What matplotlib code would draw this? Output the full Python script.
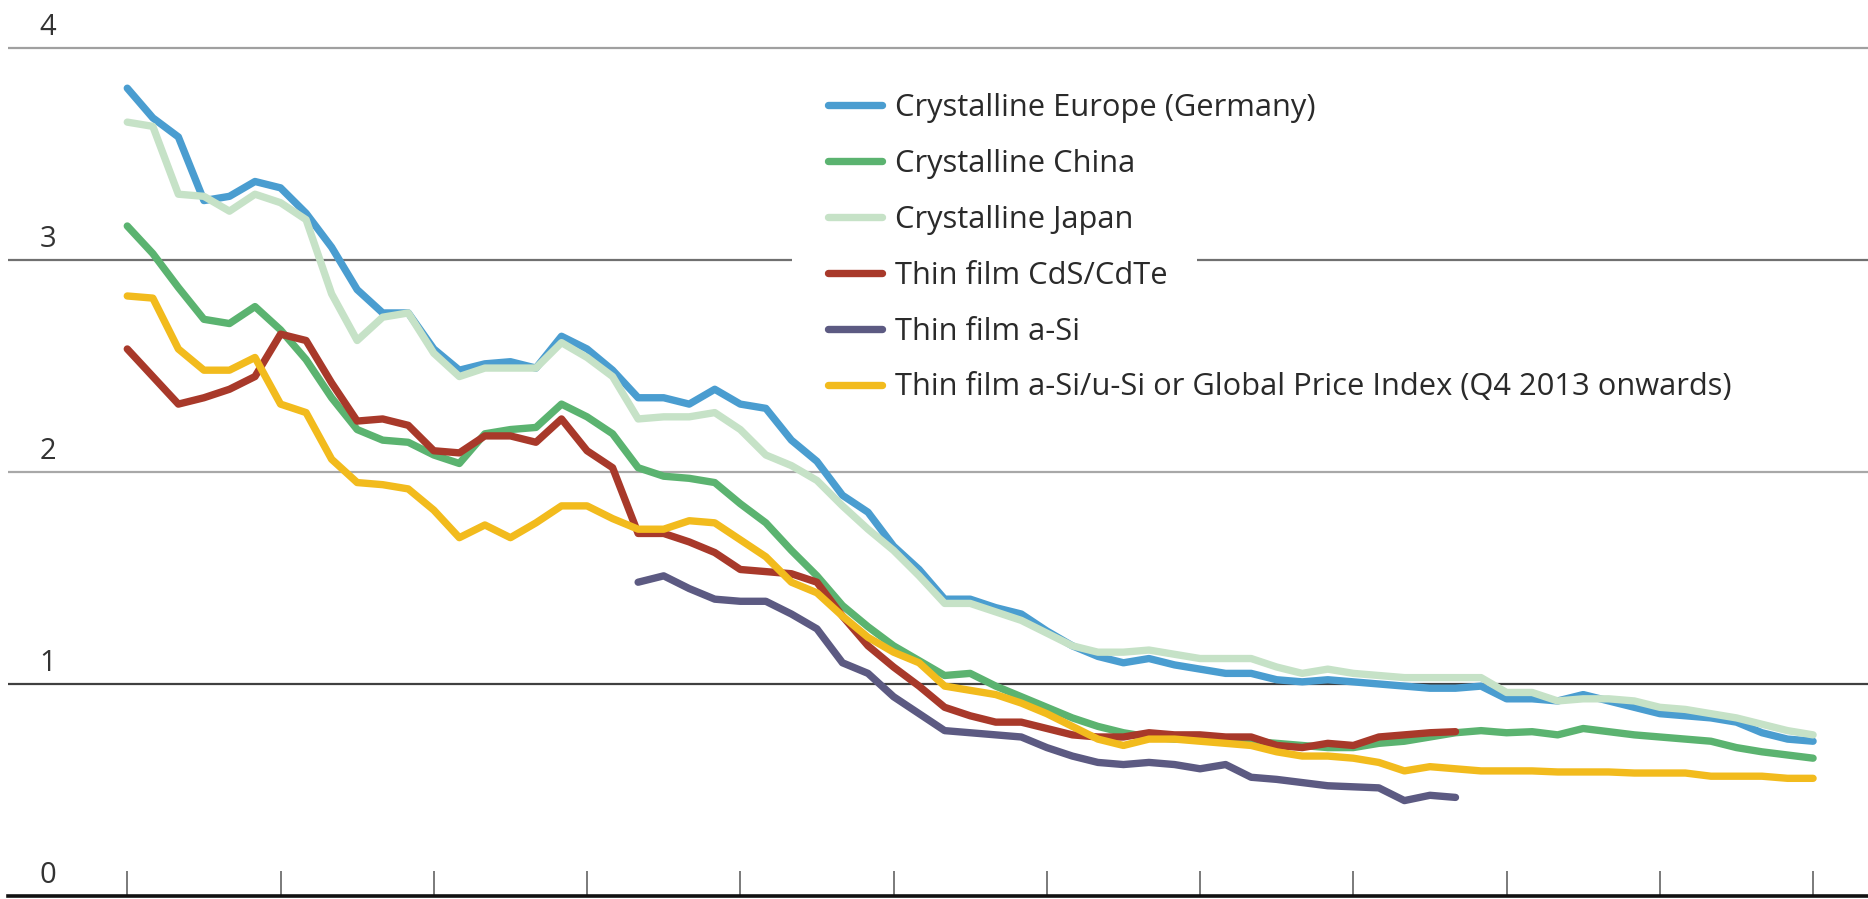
import numpy as np
import matplotlib
matplotlib.use('Agg')
import matplotlib.pyplot as plt
from matplotlib.patches import Rectangle

plt.rcParams['font.family'] = ['Open Sans', 'DejaVu Sans']

# monthly index, ticks every 6 months
months = np.arange(67)

europe = [3.81, 3.67, 3.58, 3.28, 3.30, 3.37, 3.34, 3.22, 3.06, 2.86, 2.75, 2.75,
          2.58, 2.48, 2.51, 2.52, 2.49, 2.64, 2.58, 2.48, 2.35, 2.35, 2.32, 2.39,
          2.32, 2.30, 2.15, 2.05, 1.89, 1.81, 1.65, 1.54, 1.40, 1.40, 1.36, 1.33,
          1.25, 1.18, 1.13, 1.10, 1.12, 1.09, 1.07, 1.05, 1.05, 1.02, 1.01, 1.02,
          1.01, 1.00, 0.99, 0.98, 0.98, 0.99, 0.93, 0.93, 0.92, 0.95, 0.92, 0.89,
          0.86, 0.85, 0.84, 0.82, 0.77, 0.74, 0.73]
china = [3.16, 3.03, 2.87, 2.72, 2.70, 2.78, 2.67, 2.53, 2.35, 2.20, 2.15, 2.14,
         2.08, 2.04, 2.18, 2.20, 2.21, 2.32, 2.26, 2.18, 2.02, 1.98, 1.97, 1.95,
         1.85, 1.76, 1.63, 1.51, 1.37, 1.27, 1.18, 1.11, 1.04, 1.05, 0.99, 0.94,
         0.89, 0.84, 0.80, 0.77, 0.75, 0.74, 0.74, 0.73, 0.73, 0.72, 0.71, 0.70,
         0.70, 0.72, 0.73, 0.75, 0.77, 0.78, 0.77, 0.775, 0.76, 0.79, 0.775, 0.76,
         0.75, 0.74, 0.73, 0.70, 0.68, 0.665, 0.65]
japan = [3.65, 3.63, 3.31, 3.30, 3.23, 3.31, 3.27, 3.19, 2.84, 2.62, 2.73, 2.75,
         2.56, 2.45, 2.49, 2.49, 2.49, 2.61, 2.54, 2.45, 2.25, 2.26, 2.26, 2.28,
         2.20, 2.08, 2.03, 1.96, 1.84, 1.73, 1.63, 1.51, 1.38, 1.38, 1.34, 1.30,
         1.24, 1.18, 1.15, 1.15, 1.16, 1.14, 1.12, 1.12, 1.12, 1.08, 1.05, 1.07,
         1.05, 1.04, 1.03, 1.03, 1.03, 1.03, 0.96, 0.96, 0.92, 0.93, 0.93, 0.92,
         0.89, 0.88, 0.86, 0.84, 0.81, 0.78, 0.76]
cdte = [2.58, 2.45, 2.32, 2.35, 2.39, 2.45, 2.65, 2.62, 2.42, 2.24, 2.25, 2.22,
        2.10, 2.09, 2.17, 2.17, 2.14, 2.25, 2.10, 2.02, 1.71, 1.71, 1.67, 1.62,
        1.54, 1.53, 1.52, 1.48, 1.32, 1.18, 1.08, 0.99, 0.89, 0.85, 0.82, 0.82,
        0.79, 0.76, 0.75, 0.75, 0.77, 0.76, 0.76, 0.75, 0.75, 0.71, 0.70, 0.72,
        0.71, 0.75, 0.76, 0.77, 0.775]
asi_start = 20
asi = [1.48, 1.51, 1.45, 1.40, 1.39, 1.39, 1.33, 1.26, 1.10, 1.05, 0.94, 0.86,
       0.78, 0.77, 0.76, 0.75, 0.70, 0.66, 0.63, 0.62, 0.63, 0.62, 0.60, 0.62,
       0.56, 0.55, 0.535, 0.52, 0.515, 0.51, 0.45, 0.475, 0.465]
global_idx = [2.83, 2.82, 2.58, 2.48, 2.48, 2.54, 2.32, 2.28, 2.06, 1.95, 1.94, 1.92,
              1.82, 1.69, 1.75, 1.69, 1.76, 1.84, 1.84, 1.78, 1.73, 1.73, 1.77, 1.76,
              1.68, 1.60, 1.48, 1.43, 1.32, 1.22, 1.15, 1.10, 0.99, 0.97, 0.95, 0.91,
              0.86, 0.80, 0.74, 0.71, 0.74, 0.74, 0.73, 0.72, 0.71, 0.68, 0.66, 0.66,
              0.65, 0.63, 0.59, 0.61, 0.60, 0.59, 0.59, 0.59, 0.585, 0.585, 0.585, 0.58,
              0.58, 0.58, 0.565, 0.565, 0.565, 0.555, 0.555]

labels = ['Crystalline Europe (Germany)', 'Crystalline China', 'Crystalline Japan',
          'Thin film CdS/CdTe', 'Thin film a-Si',
          'Thin film a-Si/u-Si or Global Price Index (Q4 2013 onwards)']
colors = ['#4a9dd0', '#5bb370', '#c6e2c7', '#a8392a', '#5c5a82', '#f2bb1d']

series = [
    (months, europe),
    (months, china),
    (months, japan),
    (months[:len(cdte)], cdte),
    (months[asi_start:asi_start + len(asi)], asi),
    (months, global_idx),
]

fig = plt.figure(figsize=(18.68, 8.99), dpi=100)
ax = fig.add_axes([8 / 1868, 3 / 899, 1 - 8 / 1868, 896 / 899])
ax.set_xlim(-4.67, 68.15)
ax.set_ylim(0, 4.226)

grid_colors = ['#404040', '#a8a8a8', '#707070', '#a0a0a0']
for v, c in zip([1, 2, 3, 4], grid_colors):
    ax.axhline(v, color=c, lw=1.6, zorder=1)

handles = []
for (x, y), c, lab in zip(series, colors, labels):
    ln, = ax.plot(x, y, color=c, lw=5.3, solid_joinstyle='round',
                  solid_capstyle='round', label=lab, zorder=2)
    handles.append(ln)

ax.set_xticks(np.arange(0, 67, 6))
ax.tick_params(axis='x', direction='in', length=18, width=1.3, colors='#707070',
               labelbottom=False)
ax.set_yticks([])
for s in ['top', 'right', 'left']:
    ax.spines[s].set_visible(False)
ax.spines['bottom'].set_linewidth(2.6)
ax.spines['bottom'].set_color('#111111')

for v in range(5):
    ax.text(-3.1, v + 0.06, str(v), ha='center', va='baseline', fontsize=21,
            color='#333333')

leg = ax.legend(handles=handles, loc='upper left',
                bbox_to_anchor=(828 / 1868, 1 - 93 / 899),
                bbox_transform=fig.transFigure, frameon=False, fontsize=22.2,
                handlelength=1.75, handletextpad=0.42, labelspacing=0.84,
                borderpad=0, borderaxespad=0)
for t in leg.get_texts():
    t.set_color('#2a2a2a')

# white background behind each legend row (cuts the gridline)
fig.canvas.draw()
renderer = fig.canvas.get_renderer()
inv = ax.transAxes.inverted()
for t in leg.get_texts():
    bb = t.get_window_extent(renderer)
    x0, y0 = inv.transform((bb.x0 - 14 - 54 - 35, bb.y0 - 10))
    x1, y1 = inv.transform((bb.x1 + 29, bb.y1 + 12))
    ax.add_patch(Rectangle((x0, y0), x1 - x0, y1 - y0, transform=ax.transAxes,
                           facecolor='white', edgecolor='none', zorder=3))

plt.savefig('out.png', dpi=100)
